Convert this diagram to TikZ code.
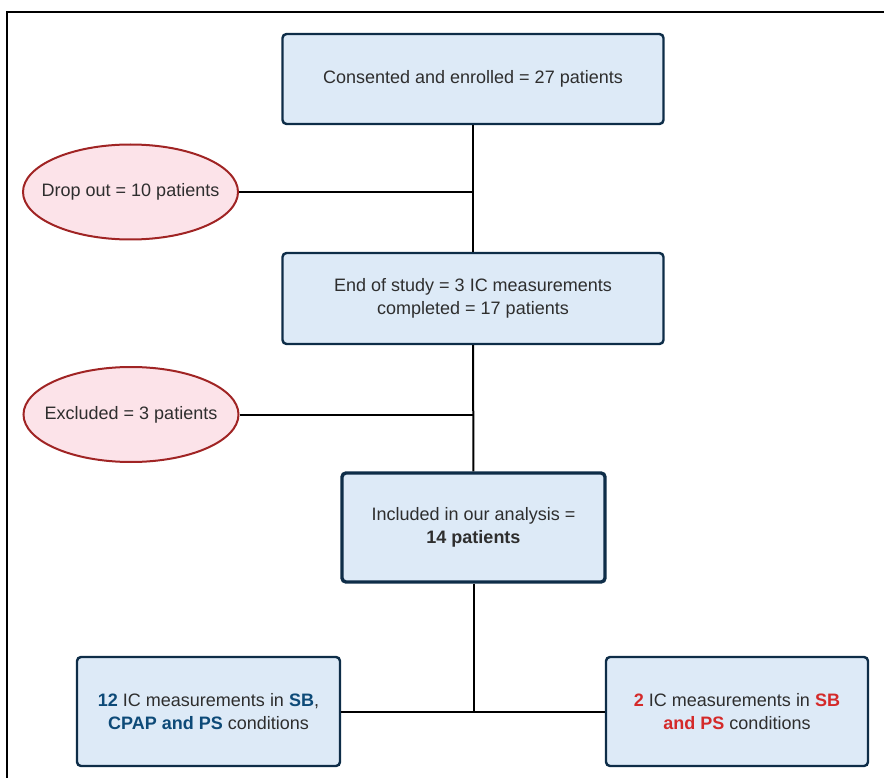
\documentclass[tikz,border=0pt]{standalone}
\usepackage{fontspec}
\setmainfont{Liberation Sans}
\usepackage{xcolor}
\usepackage{tikz}
\usetikzlibrary{shapes.geometric}
\definecolor{boxfill}{HTML}{DDEAF7}
\definecolor{boxline}{HTML}{0E2D48}
\definecolor{ovalfill}{HTML}{FCE3E9}
\definecolor{ovalline}{HTML}{A02424}
\definecolor{txtgray}{HTML}{2E2E2E}
\definecolor{hiblue}{HTML}{0D4A78}
\definecolor{hired}{HTML}{D42A2A}
\newcommand{\hb}[1]{\textbf{\color{hiblue}#1}}
\newcommand{\hr}[1]{\textbf{\color{hired}#1}}
\newcommand{\ovaltext}[1]{\makebox[0pt][c]{#1}}
\tikzset{
    tnode/.style = {align=center, inner sep=0pt, text centered, text=txtgray, font=\fontsize{18}{23}\selectfont},
    blue_box/.style = {tnode, rectangle, rounded corners=4pt, draw=boxline, fill=boxfill, line width=2.4pt},
    thick_box/.style = {blue_box, line width=3.4pt},
    red_oval/.style = {tnode, ellipse, draw=ovalline, fill=ovalfill, line width=2pt, minimum width=215pt, minimum height=95pt},
    link/.style = {draw=black, line width=2pt}
}
\begin{document}
\begin{tikzpicture}[x=1pt, y=-1pt]
    \useasboundingbox (0,0) rectangle (884,778);
    \draw[line width=2pt, black] (7,778) |- (884,12);
    \node (enrol) [blue_box, minimum width=381pt, minimum height=90pt] at (473,79)
        {Consented and enrolled = 27 patients};
    \node (drop) [red_oval] at (130.5,192) {\ovaltext{Drop out = 10 patients}};
    \node (study) [blue_box, minimum width=381pt, minimum height=91pt] at (473,298.5)
        {End of study = 3 IC measurements\\completed = 17 patients};
    \node (excl) [red_oval] at (131,414.5) {\ovaltext{Excluded = 3 patients}};
    \node (incl) [thick_box, minimum width=263pt, minimum height=109pt] at (473.5,527.5)
        {Included in our analysis =\\\textbf{14 patients}};
    \node (sbcpap) [blue_box, minimum width=263pt, minimum height=109pt] at (208.5,711.5)
        {\hb{12} IC measurements in \hb{SB},\\\hb{CPAP and PS} conditions};
    \node (sbps) [blue_box, minimum width=262pt, minimum height=109pt] at (737,711.5)
        {\hr{2} IC measurements in \hr{SB}\\\hr{and PS} conditions};
    \draw[link] (enrol) -- (study);
    \draw[link] (study) -- (incl);
    \draw[link] (drop.east) -- (drop.east -| enrol.south);
    \draw[link] (excl.east) -- (excl.east -| study.south);
    \draw[link] (sbcpap.east) -- (sbps.west);
    \draw[link] (incl.south) -- (incl.south |- sbcpap.east);
\end{tikzpicture}
\end{document}
